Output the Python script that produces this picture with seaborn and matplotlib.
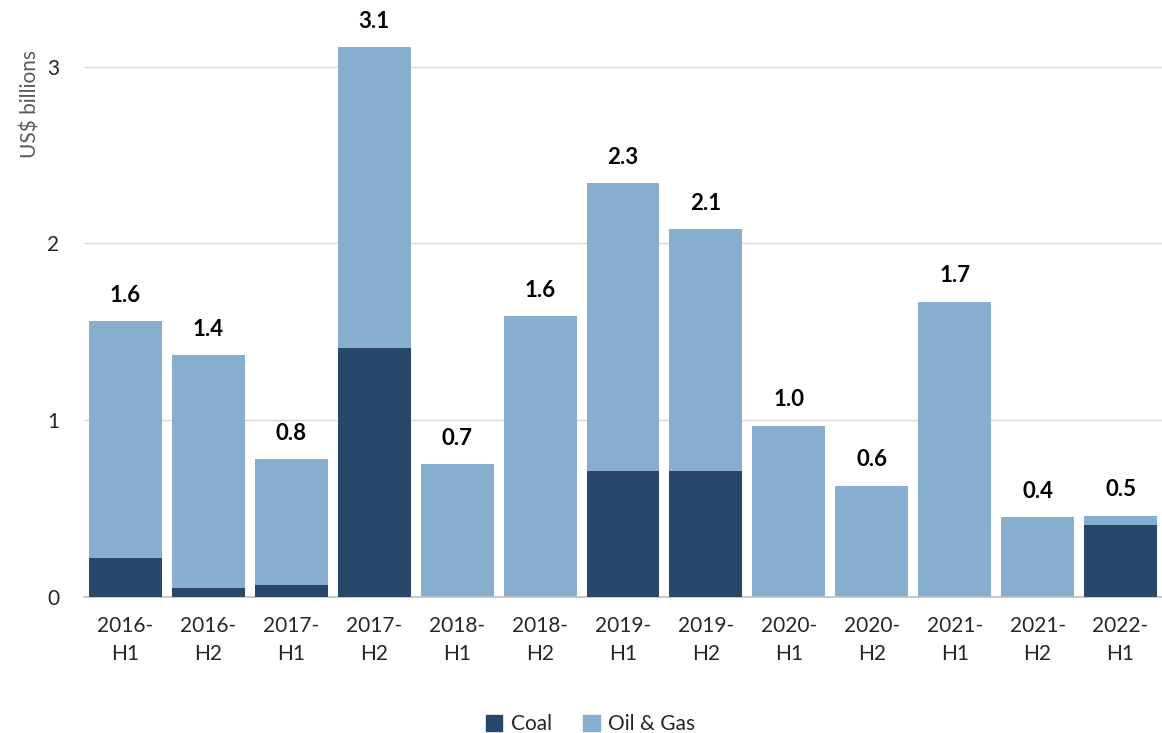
import matplotlib
matplotlib.use("Agg")
import matplotlib.pyplot as plt
import seaborn as sns
import pandas as pd
from matplotlib.patches import Patch

periods = ["2016-\nH1", "2016-\nH2", "2017-\nH1", "2017-\nH2", "2018-\nH1", "2018-\nH2",
           "2019-\nH1", "2019-\nH2", "2020-\nH1", "2020-\nH2", "2021-\nH1", "2021-\nH2",
           "2022-\nH1"]
coal = [0.22, 0.05, 0.07, 1.41, 0.0, 0.0, 0.71, 0.71, 0.0, 0.0, 0.0, 0.0, 0.41]
oil_gas = [1.34, 1.32, 0.71, 1.70, 0.75, 1.59, 1.63, 1.37, 0.97, 0.63, 1.67, 0.45, 0.05]
total_labels = ["1.6", "1.4", "0.8", "3.1", "0.7", "1.6", "2.3", "2.1", "1.0", "0.6", "1.7", "0.4", "0.5"]

COAL_COLOR = "#29476b"
OG_COLOR = "#87aecf"

sns.set_style("white")
plt.rcParams["font.family"] = ["Lato", "DejaVu Sans"]

df = pd.DataFrame({"period": periods, "Coal": coal, "Oil & Gas": oil_gas})
df["total"] = df["Coal"] + df["Oil & Gas"]

fig = plt.figure(figsize=(11.62, 7.33), dpi=100)
ax = fig.add_axes([0.0723, 0.1855, 0.9277, 0.796])

ax.yaxis.grid(True, color="#d9d9d9", linewidth=1)
ax.set_axisbelow(True)

# stacked: draw totals first, then coal over the bottom part
sns.barplot(data=df, x="period", y="total", color=OG_COLOR, width=0.88,
            saturation=1, linewidth=0, ax=ax, zorder=2)
sns.barplot(data=df, x="period", y="Coal", color=COAL_COLOR, width=0.88,
            saturation=1, linewidth=0, ax=ax, zorder=3)

for i, (t, lab) in enumerate(zip(df["total"], total_labels)):
    ax.annotate(lab, (i, t), xytext=(0, 11), textcoords="offset points",
                ha="center", va="bottom", fontsize=16, fontweight="bold", color="black")

ax.set_xlim(-0.5, 12.5)
ax.set_ylim(0, 3.3)
ax.set_yticks([0, 1, 2, 3])
ax.tick_params(axis="y", labelsize=15, length=0, pad=18)
ax.tick_params(axis="x", labelsize=15, length=0, pad=14)
for lbl in ax.get_xticklabels():
    lbl.set_linespacing(1.5)
ax.set_xlabel("")
ax.set_ylabel("US$ billions", fontsize=15, color="#595959")
ax.yaxis.set_label_coords(-0.04, 0.845)

for s in ["top", "right", "left"]:
    ax.spines[s].set_visible(False)
ax.spines["bottom"].set_color("#bfbfbf")
ax.spines["bottom"].set_linewidth(1.2)

handles = [Patch(color=COAL_COLOR, label="Coal"), Patch(color=OG_COLOR, label="Oil & Gas")]
fig.legend(handles=handles, loc="center", bbox_to_anchor=(0.508, 0.012), ncol=2,
           frameon=False, fontsize=15, handlelength=0.8, handleheight=0.8,
           handletextpad=0.4, columnspacing=1.5)

fig.savefig("out.png", dpi=100)
